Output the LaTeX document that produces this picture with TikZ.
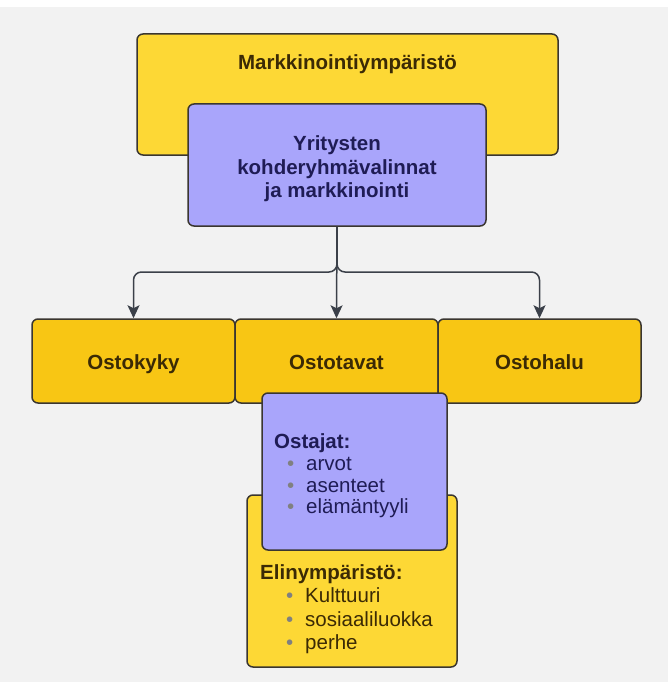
\documentclass[tikz,border=0pt]{standalone}
\usepackage{fontspec}
\setmainfont{Liberation Sans}
\usetikzlibrary{arrows.meta}
\definecolor{bggray}{HTML}{F2F2F2}
\definecolor{lightyellow}{HTML}{FDD835}
\definecolor{darkyellow}{HTML}{F8C614}
\definecolor{lilac}{HTML}{A9A5FB}
\definecolor{edgegray}{HTML}{3A3630}
\definecolor{ytext}{HTML}{3B2A05}
\definecolor{ptext}{HTML}{1F1C55}
\definecolor{arrowgray}{HTML}{3B4049}
\newcommand{\listitem}[2]{\hspace*{#1}\makebox[19pt][l]{\textcolor{gray}{•}}#2}

\begin{document}
\begin{tikzpicture}[x=1pt,y=-1pt,
  box/.style={draw=edgegray, line width=1.5pt, rounded corners=6pt, inner sep=0pt},
  heading/.style={font=\fontsize{20.5pt}{23.5pt}\selectfont\bfseries, align=center},
  bulletlist/.style={font=\fontsize{20.5pt}{22pt}\selectfont, align=left, anchor=west, inner sep=0pt},
  link/.style={draw=arrowgray, line width=1.5pt, rounded corners=8pt, -{Stealth[length=13pt,width=12pt,inset=3pt]}}]
\fill[bggray] (0,0) rectangle (668,682);
\fill[white] (0,0) rectangle (668,7);
\useasboundingbox (0,0) rectangle (668,682);
% ylaosa: ymparisto ja yritykset
\node[box, fill=lightyellow, minimum width=421pt, minimum height=121pt] (markbox) at (347.5,94.5) {};
\node[heading, text=ytext] (marktext) at (347.5,64) {Markkinointiympäristö};
\node[box, fill=lilac, minimum width=298pt, minimum height=122pt] (yrit) at (337,165) {};
\node[heading, text=ptext] (yrittext) at (337,169) {Yritysten\\kohderyhmävalinnat\\ja markkinointi};
% keskirivi
\node[box, fill=darkyellow, minimum width=203pt, minimum height=84pt] (ostokyky) at (133.5,361) {};
\node[box, fill=darkyellow, minimum width=203pt, minimum height=84pt] (ostotavat) at (336.5,361) {};
\node[box, fill=darkyellow, minimum width=203pt, minimum height=84pt] (ostohalu) at (539.5,361) {};
\node[heading, text=ytext, anchor=base] (kykytext) at (133.5,369) {Ostokyky};
\node[heading, text=ytext, anchor=base] (tavattext) at (336.5,369) {Ostotavat};
\node[heading, text=ytext, anchor=base] (halutext) at (539.5,369) {Ostohalu};
\coordinate (fork) at (337,272);
\draw[link] (yrit.south) -- (fork) -| (ostokyky.north);
\draw[link] (yrit.south) -- (fork) -| (ostohalu.north);
\draw[link] (yrit.south) -- (ostotavat.north);
% alaosa: elinymparisto ja ostajat
\node[box, fill=lightyellow, minimum width=210pt, minimum height=172pt] (elin) at (352,581) {};
\node[bulletlist, text=ytext, font=\fontsize{20.5pt}{23.4pt}\selectfont] (elintext) at (260,609) {\textbf{Elinympäristö:}\\\listitem{26pt}{Kulttuuri}\\\listitem{26pt}{sosiaaliluokka}\\\listitem{26pt}{perhe}};
\node[box, fill=lilac, minimum width=185pt, minimum height=157pt] (ostajat) at (354.5,471.5) {};
\node[bulletlist, text=ptext, font=\fontsize{20.5pt}{21.7pt}\selectfont] (ostajattext) at (274,476) {\textbf{Ostajat:}\\\listitem{13pt}{arvot}\\\listitem{13pt}{asenteet}\\\listitem{13pt}{elämäntyyli}};
\end{tikzpicture}
\end{document}
